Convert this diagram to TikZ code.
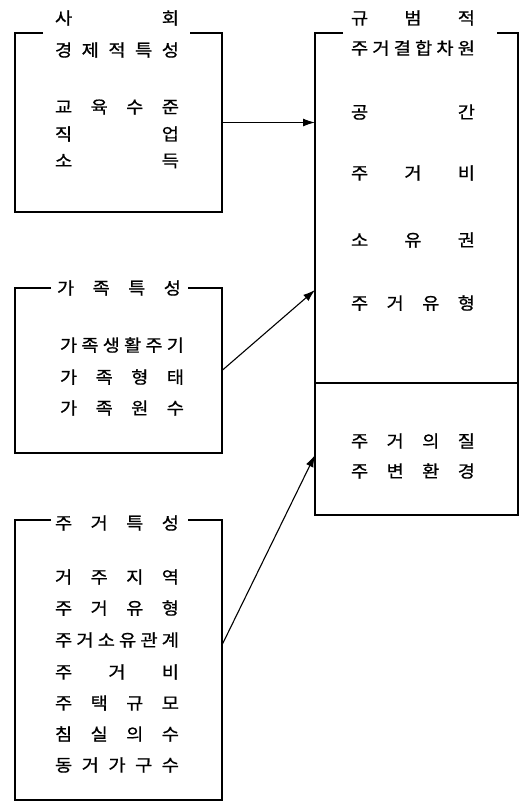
\documentclass[tikz,border=0pt]{standalone}
\usepackage{fontspec}
\newfontfamily\kr[FakeStretch=1.1,FakeBold=0.8]{Noto Sans CJK KR}
\usepackage{tikz}
\usetikzlibrary{arrows.meta,positioning}
\newcommand\spread[1]{\makebox[124pt][s]{\spaceskip=0pt plus 1fil\relax #1}}

\begin{document}
\begin{tikzpicture}[x=1pt,y=-1pt,
  every node/.style={font=\kr\fontsize{17}{18}\selectfont,inner sep=0pt,outer sep=0pt},
  boxarea/.style={minimum width=207pt},
  normarea/.style={minimum width=203pt},
  frame/.style={line width=1.5pt},
  rim/.style={line width=2.8pt,line cap=rect},
  link/.style={line width=1.1pt,-{Latex[length=12pt,width=8pt]}}]

\useasboundingbox (0,0) rectangle (529,809);

% left boxes
\node[boxarea,minimum height=179pt] (soc) at (118.5,122.5) {};
\node[boxarea,minimum height=165pt] (fam) at (118.5,370.5) {};
\node[boxarea,minimum height=280pt] (house) at (118.5,660) {};

\draw[frame] ([xshift=28pt]soc.north west) -- (soc.north west) -- (soc.south west);
\draw[frame] ([xshift=-32pt]soc.north east) -- (soc.north east);
\draw[rim] (soc.north east) -- (soc.south east) -- (soc.south west);

\draw[frame] ([xshift=36pt]fam.north west) -- (fam.north west) -- (fam.south west);
\draw[frame] ([xshift=-34pt]fam.north east) -- (fam.north east);
\draw[rim] (fam.north east) -- (fam.south east) -- (fam.south west);

\draw[frame] ([xshift=36pt]house.north west) -- (house.north west) -- (house.south west);
\draw[frame] ([xshift=-34pt]house.north east) -- (house.north east);
\draw[rim] (house.north east) -- (house.south east) -- (house.south west);

% right box, two parts
\node[normarea,minimum height=350pt] (normup) at (416.5,208) {};
\node[normarea,minimum height=132pt] (normlow) at (416.5,449) {};

\draw[frame] ([xshift=28pt]normup.north west) -- (normup.north west) -- (normlow.south west);
\draw[frame] ([xshift=-21pt]normup.north east) -- (normup.north east);
\draw[frame] (normlow.north west) -- (normlow.north east);
\draw[rim] (normup.north east) -- (normlow.south east) -- (normlow.south west);

% texts
\node (soct1) at (117,18) {\spread{사 회}};
\node (soct2) at (117,50) {\spread{경 제 적 특 성}};
\node (soc1) at (117,107) {\spread{교 육 수 준}};
\node (soc2) at (117,134) {\spread{직 업}};
\node (soc3) at (117,161) {\spread{소 득}};

\node (famt) at (119,288) {\spread{가 족 특 성}};
\node (fam1) at (122,345) {\spread{가 족 생 활 주 기}};
\node (fam2) at (122,377) {\spread{가 족 형 태}};
\node (fam3) at (122,408) {\spread{가 족 원 수}};

\node (houset) at (117,523) {\spread{주 거 특 성}};
\node (house1) at (117,577) {\spread{거 주 지 역}};
\node (house2) at (117,608) {\spread{주 거 유 형}};
\node (house3) at (117,640) {\spread{주 거 소 유 관 계}};
\node (house4) at (117,672) {\spread{주 거 비}};
\node (house5) at (117,703) {\spread{주 택 규 모}};
\node (house6) at (117,734) {\spread{침 실 의 수}};
\node (house7) at (117,765) {\spread{동 거 가 구 수}};

\node (normt1) at (413,18) {\spread{규 범 적}};
\node (normt2) at (413,48) {\spread{주 거 결 합 차 원}};
\node (norm1) at (413,112) {\spread{공 간}};
\node (norm2) at (413,173) {\spread{주 거 비}};
\node (norm3) at (413,240) {\spread{소 유 권}};
\node (norm4) at (413,303) {\spread{주 거 유 형}};
\node (norm5) at (413,441) {\spread{주 거 의 질}};
\node (norm6) at (413,471) {\spread{주 변 환 경}};

% connectors
\draw[link] (soc.east) -- (normup.west |- soc.east);
\draw[link] (fam.east) -- ([yshift=93pt]normup.south west);
\draw[link] ([yshift=15pt]house.east) -- ([yshift=-6pt]normlow.west);

\end{tikzpicture}
\end{document}
